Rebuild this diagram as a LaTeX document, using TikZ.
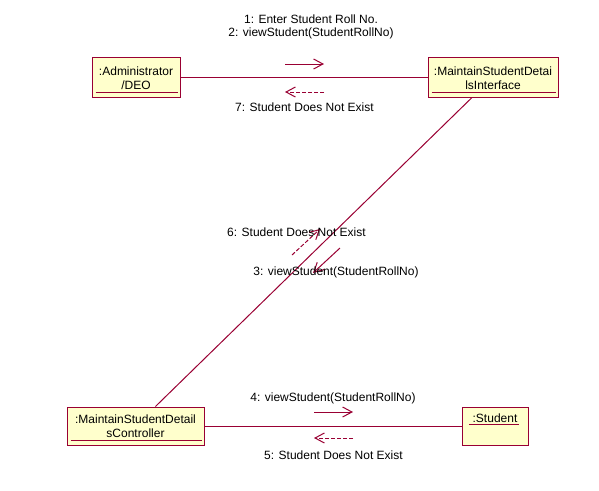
\documentclass[tikz,border=0pt]{standalone}
\usepackage{fontspec}
\setmainfont{Liberation Sans}
\usetikzlibrary{arrows.meta,calc}
\definecolor{umlline}{RGB}{153,0,51}
\definecolor{umlfill}{RGB}{255,255,204}
\begin{document}
\begin{tikzpicture}[x=0.75pt,y=-0.75pt,
  every node/.style={font=\fontsize{9pt}{10.5pt}\selectfont, inner sep=0pt},
  objbox/.style={draw=umlline, fill=umlfill, line width=0.75pt, rectangle},
  objtext/.style={align=center, text=black},
  link/.style={draw=umlline, line width=0.75pt},
  ulbar/.style={draw=umlline, line width=0.75pt},
  callmsg/.style={draw=umlline, line width=0.75pt, -{Straight Barb[length=7pt,width=7.5pt,line width=0.75pt]}},
  replymsg/.style={draw=umlline, line width=0.75pt, dash pattern=on 3pt off 1.5pt, -{Straight Barb[length=7pt,width=7.5pt,line width=0.75pt]}},
  msglabel/.style={align=center, text=black, font=\fontsize{9pt}{9.75pt}\selectfont}]
  \useasboundingbox (0,0) rectangle (599,490);

  % object boxes
  \node[objbox, minimum width=66pt, minimum height=30pt] (adm) at (136,77) {};
  \node[objbox, minimum width=97.5pt, minimum height=30pt] (ifc) at (493,77) {};
  \node[objbox, minimum width=102.75pt, minimum height=28.5pt] (ctl) at (135.5,426) {};
  \node[objbox, minimum width=49.5pt, minimum height=28.5pt] (stu) at (495,426) {};

  % object names
  \node[objtext] (admt) at (136,78) {:Administrator\\/DEO};
  \node[objtext] (ifct) at (493,78) {:MaintainStudentDetai\\lsInterface};
  \node[objtext] (ctlt) at (135.5,426) {:MaintainStudentDetail\\sController};
  \node[objtext] (stut) at (495,418) {:Student};

  % underlines of the object names
  \draw[ulbar] ($(adm.south west)+(4,-5)$) -- ($(adm.south east)+(-3,-5)$);
  \draw[ulbar] ($(ifc.south west)+(4,-5)$) -- ($(ifc.south east)+(-3,-5)$);
  \draw[ulbar] ($(ctl.south west)+(4,-5)$) -- ($(ctl.south east)+(-3,-5)$);
  \draw[ulbar] (469,424) -- (519,424);

  % links between objects
  \draw[link] (adm) -- (ifc);
  \draw[link] (ifc) -- (ctl);
  \draw[link] (ctl) -- (stu);

  % message arrows
  \coordinate (m1s) at (285,64);  \coordinate (m1e) at (324,64);
  \coordinate (m7s) at (324,92);  \coordinate (m7e) at (285,92);
  \coordinate (m3s) at (340,248); \coordinate (m3e) at (313,273);
  \coordinate (m6s) at (292,255); \coordinate (m6e) at (320,229);
  \coordinate (m4s) at (314,412); \coordinate (m4e) at (353,412);
  \coordinate (m5s) at (353,438); \coordinate (m5e) at (314,438);
  \draw[callmsg] (m1s) -- (m1e);
  \draw[replymsg] (m7s) -- (m7e);
  \draw[callmsg] (m3s) -- (m3e);
  \draw[replymsg] (m6s) -- (m6e);
  \draw[callmsg] (m4s) -- (m4e);
  \draw[replymsg] (m5s) -- (m5e);

  % message labels
  \node[msglabel] (l12) at (311,27) {1: Enter Student Roll No.\\2: viewStudent(StudentRollNo)};
  \node[msglabel] (l7) at (304.5,107) {7: Student Does Not Exist};
  \node[msglabel] (l6) at (296.5,232) {6: Student Does Not Exist};
  \node[msglabel] (l3) at (336,272) {3: viewStudent(StudentRollNo)};
  \node[msglabel] (l4) at (333,398) {4: viewStudent(StudentRollNo)};
  \node[msglabel] (l5) at (333.5,455) {5: Student Does Not Exist};
\end{tikzpicture}
\end{document}
